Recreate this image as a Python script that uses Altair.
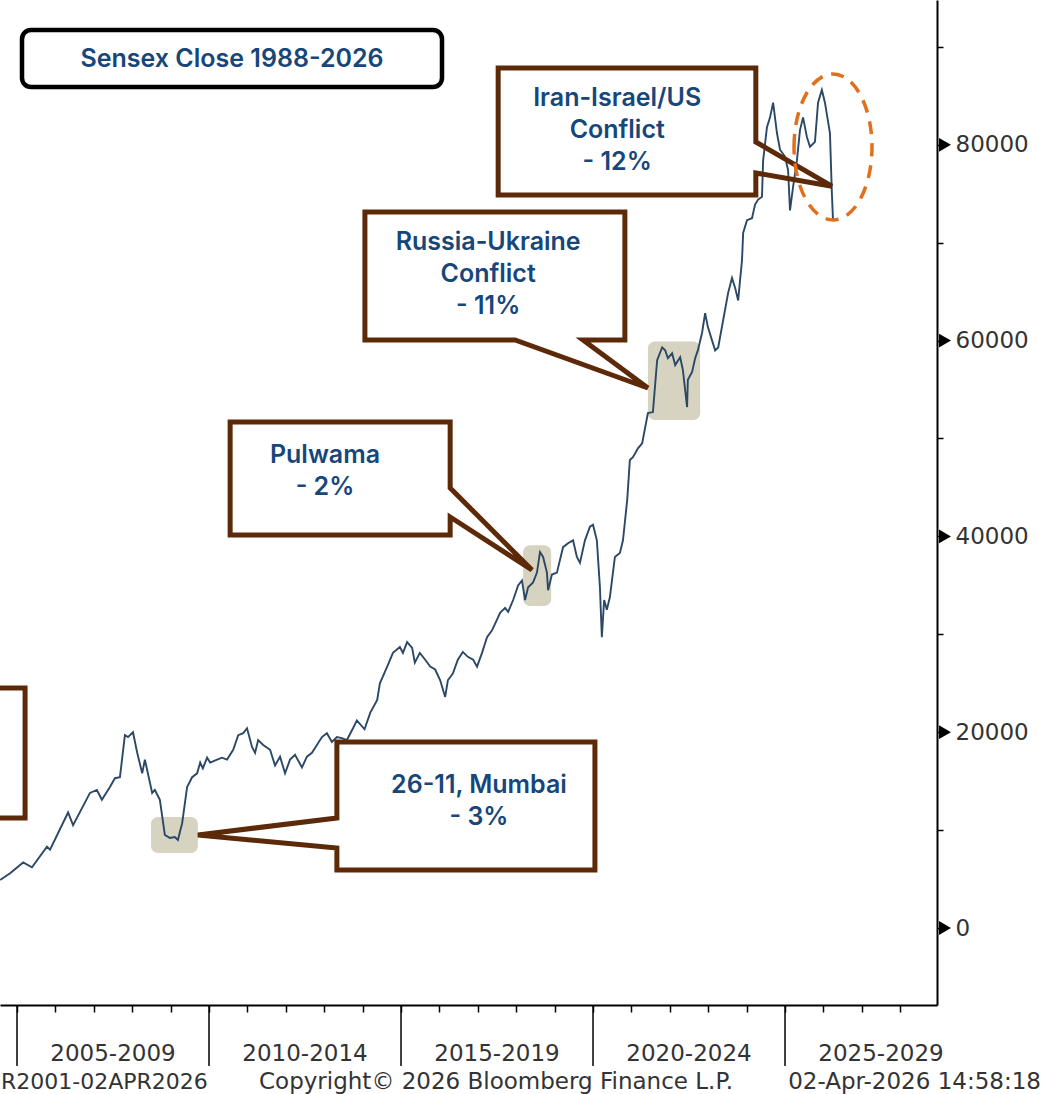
import altair as alt
import pandas as pd

# ---------------- Sensex close ----------------
years = [
    2004.56, 2004.82, 2005.16, 2005.39, 2005.78, 2005.86, 2006.33, 2006.46, 2006.90, 2007.08,
    2007.21, 2007.42, 2007.55, 2007.68, 2007.81, 2007.89, 2008.02, 2008.13, 2008.26, 2008.33,
    2008.52, 2008.59, 2008.72, 2008.85, 2008.98, 2009.11, 2009.19, 2009.30, 2009.43, 2009.56,
    2009.69, 2009.77, 2009.84, 2009.95, 2010.03, 2010.21, 2010.34, 2010.47, 2010.63, 2010.76,
    2010.89, 2010.99, 2011.12, 2011.20, 2011.28, 2011.41, 2011.59, 2011.72, 2011.85, 2011.98,
    2012.11, 2012.24, 2012.42, 2012.55, 2012.68, 2012.81, 2012.94, 2013.07, 2013.20, 2013.33,
    2013.46, 2013.59, 2013.75, 2013.85, 2014.05, 2014.20, 2014.38, 2014.45, 2014.64, 2014.79,
    2014.97, 2015.05, 2015.16, 2015.29, 2015.36, 2015.49, 2015.63, 2015.76, 2015.89, 2016.02,
    2016.15, 2016.22, 2016.35, 2016.48, 2016.61, 2016.74, 2016.88, 2016.98, 2017.11, 2017.24,
    2017.37, 2017.50, 2017.58, 2017.71, 2017.79, 2017.92, 2018.05, 2018.15, 2018.23, 2018.31,
    2018.44, 2018.54, 2018.62, 2018.70, 2018.80, 2018.83, 2018.93, 2019.06, 2019.22, 2019.35,
    2019.48, 2019.58, 2019.66, 2019.79, 2019.92, 2020.00, 2020.10, 2020.18, 2020.23, 2020.29,
    2020.36, 2020.44, 2020.57, 2020.70, 2020.78, 2020.89, 2020.96, 2021.04, 2021.17, 2021.28,
    2021.41, 2021.43, 2021.56, 2021.67, 2021.80, 2021.88, 2021.95, 2022.06, 2022.14, 2022.27,
    2022.34, 2022.45, 2022.47, 2022.58, 2022.66, 2022.73, 2022.84, 2022.92, 2022.99, 2023.18,
    2023.26, 2023.39, 2023.52, 2023.62, 2023.70, 2023.78, 2023.83, 2023.88, 2023.91, 2024.01,
    2024.14, 2024.22, 2024.30, 2024.40, 2024.43, 2024.53, 2024.61, 2024.69, 2024.79, 2024.87,
    2025.00, 2025.08, 2025.13, 2025.21, 2025.31, 2025.39, 2025.47, 2025.57, 2025.65, 2025.78,
    2025.86, 2025.96, 2026.04, 2026.17, 2026.22, 2026.25,
]
closes = [
    4900, 5600, 6700, 6200, 8300, 8000, 11800, 10500, 13800, 14100,
    13100, 14400, 15300, 15400, 19700, 19500, 20000, 17900, 15800, 17200,
    13800, 14100, 13100, 9500, 9200, 9300, 9000, 10700, 14400, 15400,
    15800, 16900, 16300, 17400, 16900, 17200, 17400, 17200, 18200, 19700,
    19900, 20400, 18500, 17900, 19200, 18700, 18200, 16600, 17500, 15800,
    17200, 17700, 16400, 17500, 17900, 18700, 19500, 19900, 19000, 19500,
    19400, 19200, 20400, 21200, 20300, 22000, 23300, 25000, 26700, 28100,
    28700, 28100, 29200, 28600, 27100, 28100, 27400, 26700, 26400, 25300,
    23600, 25300, 26000, 27400, 28200, 27700, 27400, 26700, 28100, 29700,
    30400, 31500, 32200, 32700, 32300, 33500, 35000, 35500, 33500, 34800,
    35300, 36300, 38400, 37900, 36300, 34500, 36100, 36300, 38900, 39300,
    39600, 37900, 37300, 39600, 41000, 41200, 39600, 34800, 29700, 33500,
    32500, 33800, 37900, 38300, 39600, 43700, 47800, 48100, 49000, 49500,
    52200, 52600, 52700, 58000, 59300, 59000, 58200, 58700, 57500, 58300,
    57000, 53200, 56000, 56800, 58200, 59000, 60800, 62800, 61400, 59000,
    59300, 62100, 64900, 66400, 65400, 64100, 66200, 68200, 71000, 72300,
    72500, 73900, 74400, 74700, 78400, 81800, 82800, 84300, 81200, 79500,
    78800, 77400, 73300, 75700, 78400, 81500, 82800, 80800, 79800, 80300,
    84300, 85600, 84300, 81200, 75100, 72300,
]

# ---------------- axes ----------------
x_domain = [2004.557, 2028.958]
y_domain = [-7865, 94790]
y_ticks = [0, 10000, 20000, 30000, 40000, 50000, 60000, 70000, 80000, 90000]
y_major = [0, 20000, 40000, 60000, 80000]
x_year_ticks = list(range(2005, 2029))
period_starts = [2005, 2010, 2015, 2020, 2025]
period_mids = [2007.5, 2012.5, 2017.5, 2022.5, 2027.5]
period_labels = ["2005-2009", "2010-2014", "2015-2019", "2020-2024", "2025-2029"]

# ---------------- event highlights (shaded windows) ----------------
hl_x0 = [2008.49, 2018.18, 2021.43]
hl_x1 = [2009.71, 2018.91, 2022.79]
hl_y0 = [7660, 32900, 51900]
hl_y1 = [11340, 39100, 59900]

# ---------------- callouts (in data units) ----------------
callout_names = ["Mumbai", "Pulwama", "Russia", "Iran", "Left"]
callout_x0 = [2013.33, 2010.55, 2014.06, 2017.53, 2001.50]
callout_x1 = [2020.05, 2016.28, 2020.83, 2024.24, 2005.21]
callout_y0 = [5920, 40140, 60060, 74870, 11240]
callout_y1 = [19000, 51690, 73140, 87840, 24510]
callout_text = ["26-11, Mumbai\n- 3%", "Pulwama\n- 2%",
                "Russia-Ukraine\nConflict\n- 11%", "Iran-Israel/US\nConflict\n- 12%", ""]
callout_text_x = [2017.03, 2013.02, 2017.27, 2020.63, 2003.0]
callout_text_y = [14610, 48310, 70070, 84780, 17000]   # first line

# outline paths (box with pointer) per callout
outline_pts = {
    "Mumbai": [(2013.33, 19000), (2020.05, 19000), (2020.05, 5920), (2013.33, 5920),
               (2013.33, 8170), (2009.71, 9500), (2013.33, 11240), (2013.33, 19000)],
    "Pulwama": [(2010.55, 51690), (2016.28, 51690), (2016.28, 44940), (2018.41, 36570),
                (2016.28, 41980), (2016.28, 40140), (2010.55, 40140), (2010.55, 51690)],
    "Russia": [(2014.06, 73140), (2020.83, 73140), (2020.83, 60060), (2019.74, 60060),
               (2021.43, 55160), (2017.97, 60060), (2014.06, 60060), (2014.06, 73140)],
    "Iran": [(2017.53, 87840), (2024.24, 87840), (2024.24, 80290), (2026.22, 75770),
             (2024.24, 77120), (2024.24, 74870), (2017.53, 74870), (2017.53, 87840)],
    "Left": [(2001.50, 24510), (2005.21, 24510), (2005.21, 11240), (2001.50, 11240)],
}

ellipse_center = (2026.25, 79780)

# ---------------- frames ----------------
line_df = pd.DataFrame({"year": years, "close": closes})
hl_df = pd.DataFrame({"x0": hl_x0, "x1": hl_x1, "y0": hl_y0, "y1": hl_y1})
box_df = pd.DataFrame({"name": callout_names, "x0": callout_x0, "x1": callout_x1,
                       "y0": callout_y0, "y1": callout_y1, "text": callout_text,
                       "tx": callout_text_x, "ty": callout_text_y})
rows = []
for name, pts in outline_pts.items():
    for i, (px, py) in enumerate(pts):
        rows.append({"name": name, "i": i, "x": px, "y": py})
outline_df = pd.DataFrame(rows)
sep_df = pd.DataFrame({"year": period_starts})
per_df = pd.DataFrame({"mid": period_mids, "label": period_labels})
tri_df = pd.DataFrame({"v": y_major, "xr": [x_domain[1]] * len(y_major)})
ell_df = pd.DataFrame({"x": [ellipse_center[0]], "y": [ellipse_center[1]]})

xs = alt.Scale(domain=x_domain, nice=False, zero=False)
ys = alt.Scale(domain=y_domain, nice=False, zero=False)

AXFONT = "DejaVu Sans"
TXFONT = "Inter"
BROWN = "#5c2a08"
NAVY = "#16467a"

AX_X = alt.Axis(orient="bottom", values=x_year_ticks, labels=False, title=None,
                grid=False, tickSize=7, tickColor="black", tickWidth=1.5,
                domainColor="black", domainWidth=2)
AX_Y = alt.Axis(orient="right", values=y_ticks, format="d",
                labelExpr="datum.value % 20000 == 0 ? datum.label : ''",
                title=None, grid=False, tickSize=6, tickColor="black",
                tickWidth=1.5, domainColor="black", domainWidth=2,
                labelFont=AXFONT, labelFontSize=23, labelColor="#333333",
                labelPadding=12, labelBaseline="middle")


def X(f):
    return alt.X(f, type="quantitative", scale=xs, axis=AX_X)


def Y(f):
    return alt.Y(f, type="quantitative", scale=ys, axis=AX_Y)


highlights = alt.Chart(hl_df).mark_rect(cornerRadius=7, color="#d6d3c0").encode(
    x=X("x0"), x2="x1", y=Y("y0"), y2="y1")

sensex = alt.Chart(line_df).mark_line(color="#2b4866", strokeWidth=1.9, clip=True).encode(
    x=X("year"), y=Y("close"))

box_fill = alt.Chart(box_df).mark_rect(color="white").encode(
    x=X("x0"), x2="x1", y=Y("y0"), y2="y1")

outlines = alt.Chart(outline_df).mark_line(color=BROWN, strokeWidth=5, strokeJoin="miter",
                                           strokeCap="square").encode(
    x=X("x"), y=Y("y"), detail="name:N", order="i:Q")

texts = alt.Chart(box_df).mark_text(font=TXFONT, fontSize=25, fontWeight=600, color=NAVY,
                                    align="center", baseline="middle", lineBreak="\n",
                                    lineHeight=32).encode(
    x=X("tx"), y=Y("ty"), text="text:N")

ellipse = alt.Chart(ell_df).mark_point(
    shape="M -0.534 0 A 0.534 1 0 1 1 0.534 0 A 0.534 1 0 1 1 -0.534 0 Z",
    size=21316, filled=False, stroke="#e0701c", strokeWidth=3.5, strokeDash=[13, 9],
    opacity=1).encode(x=X("x"), y=Y("y"))

separators = alt.Chart(sep_df).mark_rule(color="black", strokeWidth=1.5).encode(
    x=X("year"), y=alt.value(1005), y2=alt.value(1066))

periods = alt.Chart(per_df).mark_text(font=AXFONT, fontSize=23, color="#333333",
                                      baseline="alphabetic", align="center").encode(
    x=X("mid"), y=alt.value(1061), text="label:N")

footer_base = pd.DataFrame({"one": [1]})
footer_1 = alt.Chart(footer_base).mark_text(
    font=AXFONT, fontSize=22, color="#333333", baseline="alphabetic", align="left",
    text="R2001-02APR2026").encode(x=alt.value(1), y=alt.value(1089))
footer_2 = alt.Chart(footer_base).mark_text(
    font=AXFONT, fontSize=23, color="#333333", baseline="alphabetic", align="left",
    text="Copyright\u00a9 2026 Bloomberg Finance L.P.").encode(x=alt.value(259), y=alt.value(1089))
footer_3 = alt.Chart(footer_base).mark_text(
    font=AXFONT, fontSize=23, color="#333333", baseline="alphabetic", align="right",
    text="02-Apr-2026 14:58:18").encode(x=alt.value(1041), y=alt.value(1089))

title_box = alt.Chart(footer_base).mark_rect(fill="white", stroke="black", strokeWidth=4.5,
                                             cornerRadius=9).encode(
    x=alt.value(22), x2=alt.value(442), y=alt.value(30), y2=alt.value(87))
title_txt = alt.Chart(footer_base).mark_text(font=TXFONT, fontSize=25, fontWeight=600, color=NAVY,
                                             align="center", baseline="middle",
                                             text="Sensex Close 1988-2026").encode(
    x=alt.value(232), y=alt.value(59))

# wedge-shaped major ticks on the right axis
triangles = alt.Chart(tri_df).mark_point(shape="triangle-right", size=190, filled=True,
                                         color="black", opacity=1, xOffset=8,
                                         strokeWidth=0).encode(
    x=X("xr"), y=Y("v"))

chart = alt.layer(
    highlights, sensex, box_fill, outlines, texts, ellipse,
    separators, periods, footer_1, footer_2, footer_3, title_box, title_txt, triangles,
).properties(
    width=937, height=1005,
    padding={"left": 0, "top": 0, "right": 118, "bottom": 89},
    autosize=alt.AutoSizeParams(type="none"),
    background="white",
).configure_view(stroke=None)

chart.save("out.html", embed_options={"renderer": "svg", "actions": False})
